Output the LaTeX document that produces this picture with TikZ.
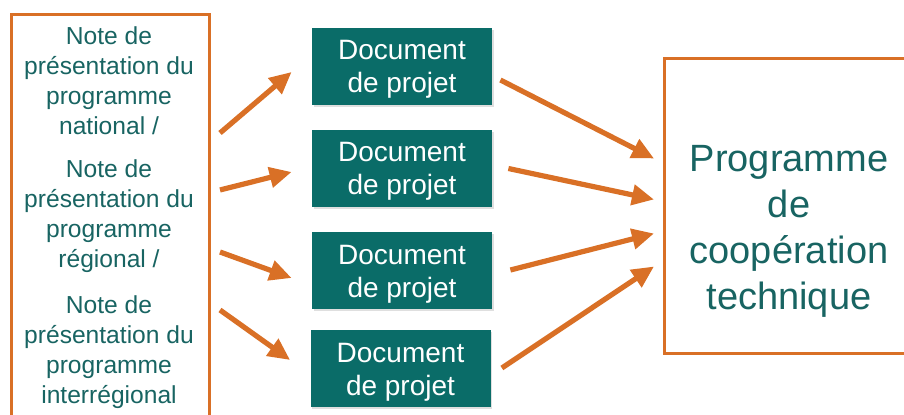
\documentclass[tikz,border=0pt]{standalone}
\usepackage{fontspec}
\setmainfont{Liberation Sans}
\usetikzlibrary{arrows.meta,shadows,positioning,calc}
\definecolor{org}{RGB}{217,112,38}
\definecolor{tl}{RGB}{10,108,104}
\definecolor{tltxt}{RGB}{24,100,98}

\begin{document}
\begin{tikzpicture}[
    x=0.5pt, y=-0.5pt,
    frame/.style={draw=org, line width=1.5pt, inner sep=0pt},
    note/.style={text=tltxt, align=center, font=\fontsize{12.3}{15}\selectfont, inner sep=0pt},
    doc/.style={fill=tl, text=white, align=center, minimum width=90pt, minimum height=38.5pt,
                inner sep=0pt, text depth=0pt, font=\fontsize{14}{16.5}\selectfont,
                drop shadow={opacity=0.25, shadow xshift=0.8pt, shadow yshift=-0.8pt}},
    arr/.style={-{Triangle[length=11pt, width=10pt]}, line width=2.6pt, org}]

    \useasboundingbox (0,0) rectangle (904,415);

    % ── notes ────────────────────────────────────────────────
    \node[frame, anchor=north west, minimum width=99pt, minimum height=220pt] (notes) at (10,13) {};
    \node[note] (n1) at (109,81) {Note de\\présentation du\\programme\\national /};
    \node[note] (n2) at (109,216) {Note de\\présentation du\\programme\\régional /};
    \node[note] (n3) at (109,352) {Note de\\présentation du\\programme\\interrégional};

    % ── documents de projet ──────────────────────────────────
    \node[doc] (d1) at (402,66.5) {Document\\de projet};
    \node[doc] (d2) at (402,168.5) {Document\\de projet};
    \node[doc] (d3) at (402,271) {Document\\de projet};
    \node[doc] (d4) at (400.5,369) {Document\\de projet};

    % ── programme ────────────────────────────────────────────
    \node[frame, anchor=north west, minimum width=135pt, minimum height=147.5pt] (prog) at (663,57) {};
    \node[note, font=\fontsize{19}{23}\selectfont] (ptxt) at (789,231)
      {Programme\\de\\coopération\\technique};

    % notes -> documents
    \draw[arr] ([shift={(9,120)}]notes.north east) -- ([shift={(-20,5.5)}]d1.west);
    \draw[arr] ([shift={(9,177)}]notes.north east) -- ([shift={(-20,3.5)}]d2.west);
    \draw[arr] ([shift={(9,239)}]notes.north east) -- ([shift={(-20,7)}]d3.west);
    \draw[arr] ([shift={(9,297)}]notes.north east) -- ([shift={(-20,-9)}]d4.west);

    % documents -> programme
    \draw[arr] ([shift={(8,13.5)}]d1.east) -- ([shift={(-9,-47.5)}]prog.west);
    \draw[arr] ([shift={(16,0)}]d2.east) -- ([shift={(-9,-6.5)}]prog.west);
    \draw[arr] ([shift={(18,-1)}]d3.east) -- ([shift={(-9,27.5)}]prog.west);
    \draw[arr] ([shift={(11,-1)}]d4.east) -- ([shift={(-9,60.5)}]prog.west);

\end{tikzpicture}
\end{document}
